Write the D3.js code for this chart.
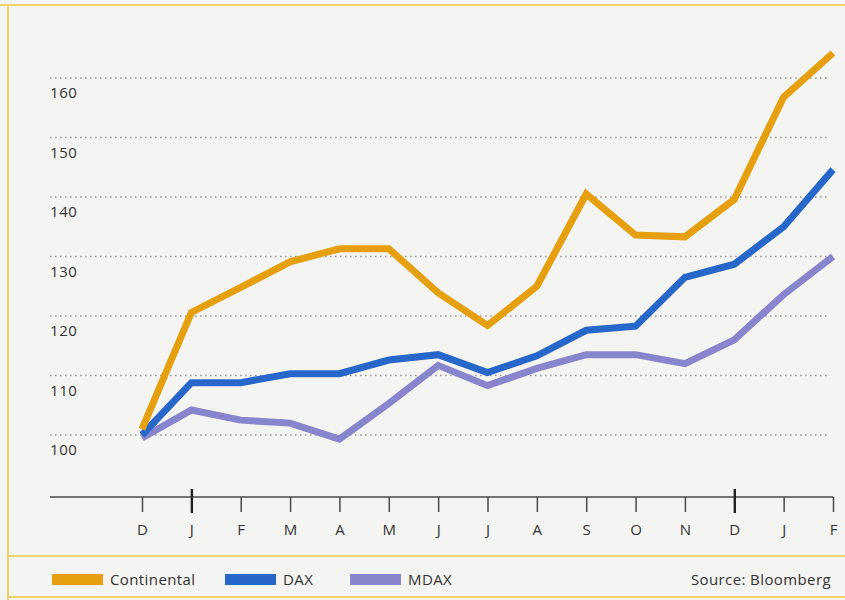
<!DOCTYPE html>
<html>
<head>
<meta charset="utf-8">
<script src="https://cdn.jsdelivr.net/npm/d3@7"></script>
<style>
  html, body { margin: 0; padding: 0; background: #f4f4f2; }
  svg { display: block; }
  text { font-family: "Open Sans", "Liberation Sans", sans-serif; fill: #333; }
</style>
</head>
<body>
<svg id="chart" width="845" height="600"></svg>
<script>
// ---- data ----
const months = ["D", "J", "F", "M", "A", "M", "J", "J", "A", "S", "O", "N", "D", "J", "F"];
const yearStarts = [1, 12];
const yTicks = [100, 110, 120, 130, 140, 150, 160];
const continental = [101, 120.6, 124.8, 129.1, 131.3, 131.3, 123.9, 118.4, 125, 140.5, 133.6, 133.3, 139.6, 156.8, 164.2];
const dax = [100, 108.8, 108.8, 110.3, 110.3, 112.6, 113.5, 110.5, 113.3, 117.6, 118.3, 126.5, 128.7, 135, 144.6];
const mdax = [99.5, 104.2, 102.5, 102, 99.3, 105.3, 111.7, 108.3, 111.2, 113.5, 113.5, 112, 116, 123.6, 130];
const seriesNames = ["Continental", "DAX", "MDAX"];
const seriesColors = ["#e69f0f", "#2767c9", "#8985cd"];
const sourceText = "Source: Bloomberg";

const svg = d3.select("#chart");

// frame
const frameColor = "#ecd46c";
svg.append("line").attr("x1", 0).attr("x2", 845).attr("y1", 5).attr("y2", 5)
  .attr("stroke", frameColor).attr("stroke-width", 2.2);
svg.append("line").attr("x1", 8).attr("x2", 8).attr("y1", 5).attr("y2", 600)
  .attr("stroke", frameColor).attr("stroke-width", 2);
svg.append("line").attr("x1", 8).attr("x2", 845).attr("y1", 556).attr("y2", 556)
  .attr("stroke", frameColor).attr("stroke-width", 1.8);
svg.append("line").attr("x1", 8).attr("x2", 845).attr("y1", 597).attr("y2", 597)
  .attr("stroke", frameColor).attr("stroke-width", 1.8);

// scales
const x = d3.scalePoint().domain(d3.range(months.length)).range([142, 833]);
const y = d3.scaleLinear().domain([100, 160]).range([435, 78]);

// gridlines + labels (labels sit below each gridline)
const grid = svg.append("g");
grid.selectAll("line").data(yTicks).join("line")
  .attr("x1", 50).attr("x2", 828)
  .attr("y1", d => y(d)).attr("y2", d => y(d))
  .attr("stroke", "#9a9a9a").attr("stroke-width", 1.6)
  .attr("stroke-dasharray", "1.6,3.4");
grid.selectAll("text").data(yTicks).join("text")
  .attr("x", 50).attr("y", d => y(d) + 20)
  .attr("font-size", 15).attr("letter-spacing", 0.6)
  .text(d => d);

// x axis
const baseY = 497;
svg.append("line").attr("x1", 50).attr("x2", 833).attr("y1", baseY).attr("y2", baseY)
  .attr("stroke", "#4a4a4a").attr("stroke-width", 1.5);
const xAxis = d3.axisBottom(x).tickSize(15).tickPadding(12).tickFormat(i => months[i]);
const gx = svg.append("g").attr("transform", `translate(0,${baseY})`).call(xAxis);
gx.select(".domain").remove();
gx.selectAll(".tick line").attr("stroke", "#4a4a4a").attr("stroke-width", 1.5);
gx.selectAll(".tick text").attr("font-size", 15).attr("font-family", "Open Sans, sans-serif").attr("fill", "#333");
gx.selectAll(".tick").filter(i => yearStarts.includes(i)).select("line")
  .attr("y1", -8).attr("y2", 16).attr("stroke-width", 2.4).attr("stroke", "#222");

// lines
const allSeries = [continental, dax, mdax];
const line = d3.line().x((d, i) => x(i)).y(d => y(d));
const order = [2, 1, 0];
order.forEach(k => {
  svg.append("path").datum(allSeries[k])
    .attr("d", line)
    .attr("fill", "none")
    .attr("stroke", seriesColors[k])
    .attr("stroke-width", 7)
    .attr("stroke-linejoin", "miter")
    .attr("stroke-miterlimit", 3);
});

// legend
const legendX = [52, 225, 350];
const lg = svg.append("g");
seriesNames.forEach((name, k) => {
  lg.append("rect").attr("x", legendX[k]).attr("y", 574).attr("width", 51).attr("height", 11)
    .attr("fill", seriesColors[k]);
  lg.append("text").attr("x", legendX[k] + 58).attr("y", 585).attr("font-size", 15)
    .attr("letter-spacing", 0.4).text(name);
});
lg.append("text").attr("x", 831).attr("y", 585).attr("font-size", 15).attr("letter-spacing", 0.4)
  .attr("text-anchor", "end").text(sourceText);
</script>
</body>
</html>
